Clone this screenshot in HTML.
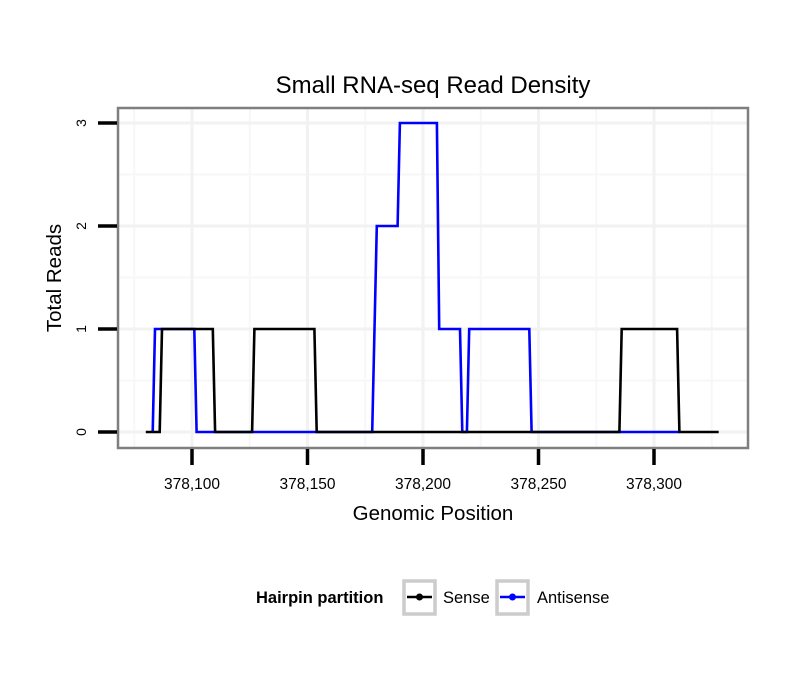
<!DOCTYPE html>
<html><head><meta charset="utf-8"><style>
body{margin:0;background:#fff;}
svg text{font-family:"Liberation Sans",sans-serif;}
</style></head><body>
<svg id="chart" width="810" height="690" xmlns="http://www.w3.org/2000/svg">
<rect width="810" height="690" fill="#fff"/>
<text x="433" y="93" font-size="24" text-anchor="middle">Small RNA-seq Read Density</text>
<g id="grid"></g>
<g id="series"></g>
<rect x="118" y="108" width="630" height="340" fill="none" stroke="#7f7f7f" stroke-width="2.5"/>
<g id="axes"></g>
<text x="433" y="520" font-size="20.5" text-anchor="middle">Genomic Position</text>
<text transform="translate(61,278) rotate(-90)" font-size="20.5" text-anchor="middle">Total Reads</text>
<g>
<text x="256" y="603" font-size="16.5" font-weight="bold">Hairpin partition</text>
<g>
<rect x="404" y="581" width="31" height="33" fill="#fff" stroke="#ccc" stroke-width="3.5"/>
<line x1="407" y1="597" x2="432" y2="597" stroke="#000" stroke-width="2.5"/><circle cx="419.5" cy="597" r="3.5" fill="#000"/>
<text x="443" y="603" font-size="16.5">Sense</text></g>
<g>
<rect x="497" y="581" width="31" height="33" fill="#fff" stroke="#ccc" stroke-width="3.5"/>
<line x1="500" y1="597" x2="525" y2="597" stroke="#00f" stroke-width="2.5"/><circle cx="512.5" cy="597" r="3.5" fill="#00f"/>
<text x="537" y="603" font-size="16.5">Antisense</text></g>
</g>
</svg>
<script>
const senseX=[378080,378086,378087,378109,378110,378126,378127,378153,378154,378285,378286,378310,378311,378328];
const senseY=[0,0,1,1,0,0,1,1,0,0,1,1,0,0];
const antiX=[378083,378084,378101,378102,378178,378180,378189,378190,378206,378207,378216,378217,378219,378220,378246,378247,378311];
const antiY=[0,1,1,0,0,2,2,3,3,1,1,0,0,1,1,0,0];
const xTicks=[378100,378150,378200,378250,378300];
const xTickLabels=["378,100","378,150","378,200","378,250","378,300"];
const yTicks=[0,1,2,3];
const yTickLabels=["0","1","2","3"];

const NS="http://www.w3.org/2000/svg";
function sx(v){return 192+(v-378100)*2.31;}
function sy(v){return 432-v*103;}
function mk(tag,attrs,parent){const e=document.createElementNS(NS,tag);for(const k in attrs)e.setAttribute(k,attrs[k]);parent.appendChild(e);return e;}
const grid=document.getElementById('grid'),axes=document.getElementById('axes'),series=document.getElementById('series');
for(let i=0;i<xTicks.length+1;i++){
  const v=xTicks[0]-25+i*50, x=sx(v);
  if(x>118&&x<748){const l=mk('line',{x1:x,x2:x,y1:108,y2:448,stroke:'#f7f7f7','stroke-width':2},grid);
  
  }
}
for(let i=0;i<yTicks.length;i++){
  const y=sy(yTicks[i]+0.5);
  if(y>108&&y<448){const l=mk('line',{x1:118,x2:748,y1:y,y2:y,stroke:'#f7f7f7','stroke-width':2},grid);
  
  }
}
xTicks.forEach((v,i)=>{
  const x=sx(v);
  const g=mk('line',{x1:x,x2:x,y1:108,y2:448,stroke:'#f2f2f2','stroke-width':3},grid);
  
  
  const t=mk('line',{x1:x,x2:x,y1:449,y2:465,stroke:'#000','stroke-width':3.5},axes);
  
  
  const lb=mk('text',{x:x,y:489,'font-size':15.5,'text-anchor':'middle'},axes);
  lb.textContent=xTickLabels[i];
  
  
});
yTicks.forEach((v,i)=>{
  const y=sy(v);
  const g=mk('line',{x1:118,x2:748,y1:y,y2:y,stroke:'#f2f2f2','stroke-width':3},grid);
  
  
  const t=mk('line',{x1:98,x2:117,y1:y,y2:y,stroke:'#000','stroke-width':3.5},axes);
  
  
  const lb=mk('text',{transform:`translate(86,${y}) rotate(-90)`,'font-size':14,'text-anchor':'middle'},axes);
  lb.textContent=yTickLabels[i];
  
  
});
function pts(X,Y){return X.map((v,i)=>sx(v).toFixed(1)+','+sy(Y[i]).toFixed(1)).join(' ');}
const a=mk('polyline',{points:pts(antiX,antiY),fill:'none',stroke:'#0000ff','stroke-width':2.6},series);


const s=mk('polyline',{points:pts(senseX,senseY),fill:'none',stroke:'#000','stroke-width':2.6},series);


</script>
</body></html>
